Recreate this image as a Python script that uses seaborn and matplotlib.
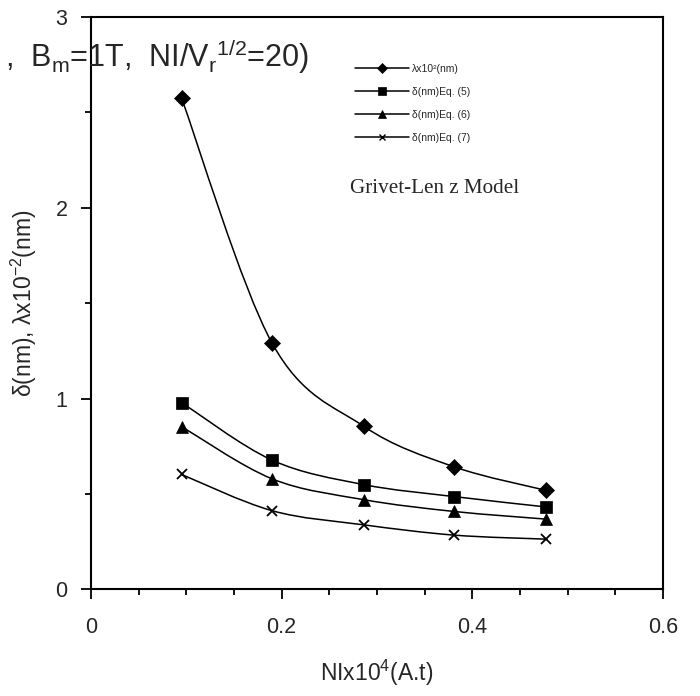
import numpy as np
import pandas as pd
import matplotlib
matplotlib.use("Agg")
import matplotlib.pyplot as plt
from matplotlib.path import Path
from matplotlib.patches import PathPatch
from matplotlib.lines import Line2D
from matplotlib.ticker import MultipleLocator
import seaborn as sns

# Ampere-turns (x 10^4)
ni = [0.095, 0.19, 0.286, 0.381, 0.477]

# lambda x 10^2 (nm) and delta (nm) from the three equations
lam = [2.575, 1.29, 0.855, 0.642, 0.519]
delta_eq5 = [0.979, 0.677, 0.549, 0.486, 0.432]
delta_eq6 = [0.853, 0.579, 0.470, 0.408, 0.368]
delta_eq7 = [0.602, 0.412, 0.338, 0.284, 0.263]

series_labels = ["λx10²(nm)", "δ(nm)Eq. (5)", "δ(nm)Eq. (6)", "δ(nm)Eq. (7)"]
series_values = [lam, delta_eq5, delta_eq6, delta_eq7]
series_markers = ["D", "s", "^", "x"]
marker_sizes = [8, 8, 8.5, 7.5]

x_ticks = [0, 0.2, 0.4, 0.6]
y_ticks = [0, 1, 2, 3]

sns.set_theme(style="white")
plt.rcParams["font.family"] = ["Liberation Sans", "DejaVu Sans"]
plt.rcParams["mathtext.fontset"] = "custom"
plt.rcParams["mathtext.rm"] = "Liberation Sans"
plt.rcParams["mathtext.it"] = "Liberation Sans:italic"

fig = plt.figure(figsize=(7.0, 6.96), dpi=100)
ax = fig.add_axes([0.13, 0.1533, 0.817, 0.8223])

def smooth_path(xs, ys, k=1 / 6):
    """Catmull-Rom style smoothed curve through the points as cubic Bezier segments."""
    pts = np.column_stack([xs, ys]).astype(float)
    n = len(pts)
    verts = [pts[0]]
    codes = [Path.MOVETO]
    for i in range(n - 1):
        p0 = pts[i - 1] if i > 0 else pts[i]
        p1 = pts[i]
        p2 = pts[i + 1]
        p3 = pts[i + 2] if i + 2 < n else pts[i + 1]
        c1 = p1 + (p2 - p0) * k
        c2 = p2 - (p3 - p1) * k
        verts += [c1, c2, p2]
        codes += [Path.CURVE4] * 3
    return Path(verts, codes)

df = pd.DataFrame({"ni": ni * 4,
                   "val": sum(series_values, []),
                   "series": sum([[s] * len(ni) for s in series_labels], [])})

for lab, vals, mk, ms in zip(series_labels, series_values, series_markers, marker_sizes):
    ax.add_patch(PathPatch(smooth_path(ni, vals), facecolor="none",
                           edgecolor="black", lw=1.1, zorder=2))
    sub = df[df["series"] == lab]
    sns.lineplot(data=sub, x="ni", y="val", ax=ax, color="black", marker=mk,
                 markersize=ms, markeredgewidth=1.3 if mk == "x" else 0.5,
                 markeredgecolor="black", linestyle="", legend=False, zorder=3)

ax.set_xlim(0, 0.6)
ax.set_ylim(0, 3)
ax.xaxis.set_major_locator(MultipleLocator(0.2))
ax.xaxis.set_minor_locator(MultipleLocator(0.05))
ax.yaxis.set_major_locator(MultipleLocator(1))
ax.yaxis.set_minor_locator(MultipleLocator(0.5))
ax.set_xticks(x_ticks)
ax.set_xticklabels(["0", "0.2", "0.4", "0.6"])
ax.set_yticks(y_ticks)
ax.set_yticklabels([str(v) for v in y_ticks])
ax.tick_params(axis="both", which="major", direction="out", length=7, width=1.3,
               color="black", labelsize=15.5, left=True, bottom=True)
ax.tick_params(axis="both", which="minor", direction="out", length=4.5, width=1.3,
               color="black", left=True, bottom=True)
ax.tick_params(axis="x", which="major", pad=13)
ax.tick_params(axis="y", which="major", pad=10)
for sp in ax.spines.values():
    sp.set_visible(True)
    sp.set_color("black")
    sp.set_linewidth(1.5)

ax.set_xlabel("NIx10$^{4}$(A.t)", fontsize=16.5, labelpad=14)
ax.set_ylabel("δ(nm), λx10$^{-2}$(nm)", fontsize=16.5, labelpad=12)

handles = [Line2D([0], [0], color="black", lw=1.1, marker=mk, markersize=ms * 0.65,
                  markeredgewidth=1.0 if mk == "x" else 0.5)
           for mk, ms in zip(series_markers, marker_sizes)]
ax.legend(handles, series_labels, loc="upper left", bbox_to_anchor=(0.445, 0.935),
          frameon=False, fontsize=7.5, handlelength=5.2, handletextpad=0.3,
          labelspacing=1.25)

ax.text(0.453, 0.70, "Grivet-Len z Model", transform=ax.transAxes,
        fontsize=15.2, family=["Liberation Serif", "DejaVu Serif"], va="center", ha="left")

fig.text(5 / 700, 1 - 56 / 696,
         ",  B$_\\mathregular{m}$=1T,  NI/V$_\\mathregular{r}$$^{\\mathregular{1/2}}$=20)",
         fontsize=22, ha="left", va="center")

fig.savefig("out.png", dpi=100)
